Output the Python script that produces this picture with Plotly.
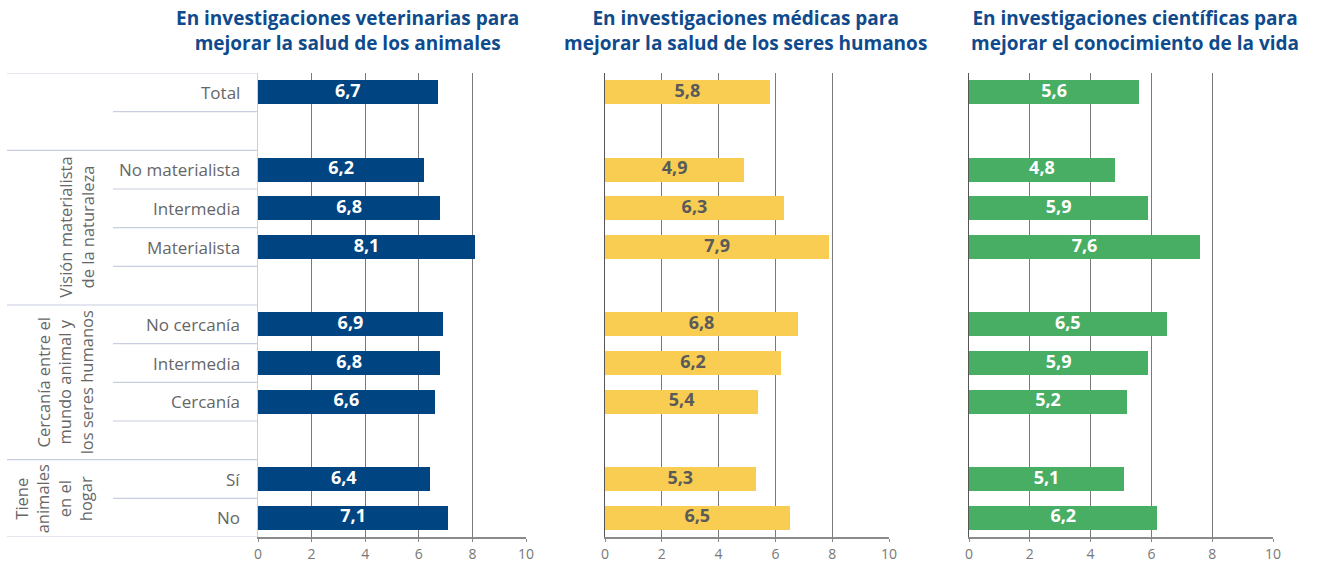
import plotly.graph_objects as go

# ---- data ----
rows = ["Total", "", "No materialista", "Intermedia", "Materialista", "",
        "No cercanía", "Intermedia", "Cercanía", "", "Sí", "No"]
bar_rows = [0, 2, 3, 4, 6, 7, 8, 10, 11]
veterinarias = [6.7, 6.2, 6.8, 8.1, 6.9, 6.8, 6.6, 6.4, 7.1]
medicas = [5.8, 4.9, 6.3, 7.9, 6.8, 6.2, 5.4, 5.3, 6.5]
cientificas = [5.6, 4.8, 5.9, 7.6, 6.5, 5.9, 5.2, 5.1, 6.2]
titles = ["En investigaciones veterinarias para<br>mejorar la salud de los animales",
          "En investigaciones médicas para<br>mejorar la salud de los seres humanos",
          "En investigaciones científicas para<br>mejorar el conocimiento de la vida"]
groups = ["Visión materialista<br>de la naturaleza",
          "Cercanía entre el<br>mundo animal y<br>los seres humanos",
          "Tiene<br>animales<br>en el<br>hogar"]
ticks = [0, 2, 4, 6, 8, 10]

W, H = 1318, 565
MT, MB = 73, 28
PH = H - MT - MB
colors = ["#004481", "#F8CD51", "#48AE64"]
txtcolors = ["white", "#5a5a5a", "white"]
domains_px = [(258, 526), (605, 889), (969, 1273)]
series = [veterinarias, medicas, cientificas]
FONT = "Open Sans"

fig = go.Figure()
for i, (vals, col, tc) in enumerate(zip(series, colors, txtcolors)):
    sfx = "" if i == 0 else str(i + 1)
    fig.add_trace(go.Bar(
        x=vals, y=bar_rows, orientation="h", width=0.62,
        marker=dict(color=col, line=dict(width=0)),
        xaxis="x" + sfx, yaxis="y" + sfx, showlegend=False, hoverinfo="skip",
    ))
    fig.add_trace(go.Scatter(
        x=[v / 2 for v in vals], y=bar_rows, mode="text",
        text=[f"{v:.1f}".replace(".", ",") for v in vals],
        textposition="middle center",
        textfont=dict(family=FONT, size=18, color=tc, weight="bold"),
        xaxis="x" + sfx, yaxis="y" + sfx, showlegend=False, hoverinfo="skip",
        cliponaxis=False,
    ))

layout = dict(
    width=W, height=H, plot_bgcolor="white", paper_bgcolor="white",
    margin=dict(l=0, r=0, t=MT, b=MB, pad=0),
    font=dict(family=FONT, color="#666"),
    bargap=0,
)
for i, (a, b) in enumerate(domains_px):
    sfx = "" if i == 0 else str(i + 1)
    layout["xaxis" + sfx] = dict(
        domain=[a / W, b / W], range=[0, 10], tickvals=ticks,
        ticktext=[str(t) for t in ticks],
        showgrid=True, gridcolor="#7a7a7a", gridwidth=1, zeroline=False,
        showline=True, linecolor="#8a8a8a", linewidth=1.5,
        ticks="outside", ticklen=3, tickcolor="#8a8a8a",
        tickfont=dict(family=FONT, size=14, color="#777"),
        anchor="y" + sfx, automargin=False, fixedrange=True,
    )
    layout["yaxis" + sfx] = dict(
        range=[11.5, -0.5], showticklabels=False, showgrid=False,
        zeroline=False, showline=True,
        linecolor="#c8cde0" if i == 0 else "#555", linewidth=1,
        anchor="x" + sfx, automargin=False, fixedrange=True,
        domain=[0, 1],
    )
fig.update_layout(**layout)

# ---- left table lines ----
x0f, xrow, xend = 7 / W, 113 / W, 258 / W
line_col = "#c8cde0"
full_lines = [-0.5, 1.5, 5.5, 9.5, 11.5]
row_lines = [0.5, 2.5, 3.5, 4.5, 6.5, 7.5, 8.5, 10.5]
shapes = []
for yv in full_lines:
    shapes.append(dict(type="line", xref="paper", yref="y", x0=x0f, x1=xend,
                       y0=yv, y1=yv, line=dict(color=line_col, width=1.2)))
for yv in row_lines:
    shapes.append(dict(type="line", xref="paper", yref="y", x0=xrow, x1=xend,
                       y0=yv, y1=yv, line=dict(color=line_col, width=1.2)))
fig.update_layout(shapes=shapes)

# ---- annotations ----
ann = []
for r, lab in enumerate(rows):
    if lab:
        ann.append(dict(text=lab, xref="paper", yref="y", x=242 / W, y=r,
                        xanchor="right", yanchor="middle", showarrow=False,
                        font=dict(family=FONT, size=17, color="#666")))
group_pos = [(76, 3.5), (65, 7.5), (53, 10.5)]
for g, (gx, gy) in zip(groups, group_pos):
    ann.append(dict(text=g, xref="paper", yref="y", x=gx / W, y=gy,
                    xanchor="center", yanchor="middle", textangle=-90,
                    showarrow=False,
                    font=dict(family=FONT, size=16.5, color="#666")))
title_x = [347, 745, 1135]
for t, tx in zip(titles, title_x):
    ann.append(dict(text=t, xref="paper", yref="paper", x=tx / W,
                    y=(H - MB - 30) / PH, xanchor="center", yanchor="middle",
                    showarrow=False, align="center",
                    font=dict(family=FONT, size=19, color="#0f4b8c",
                              weight="bold")))
fig.update_layout(annotations=ann)

fig.write_html("out.html", config={"displayModeBar": False},
               post_script="document.body.style.margin='0';"
                           "document.body.style.overflow='hidden';")
